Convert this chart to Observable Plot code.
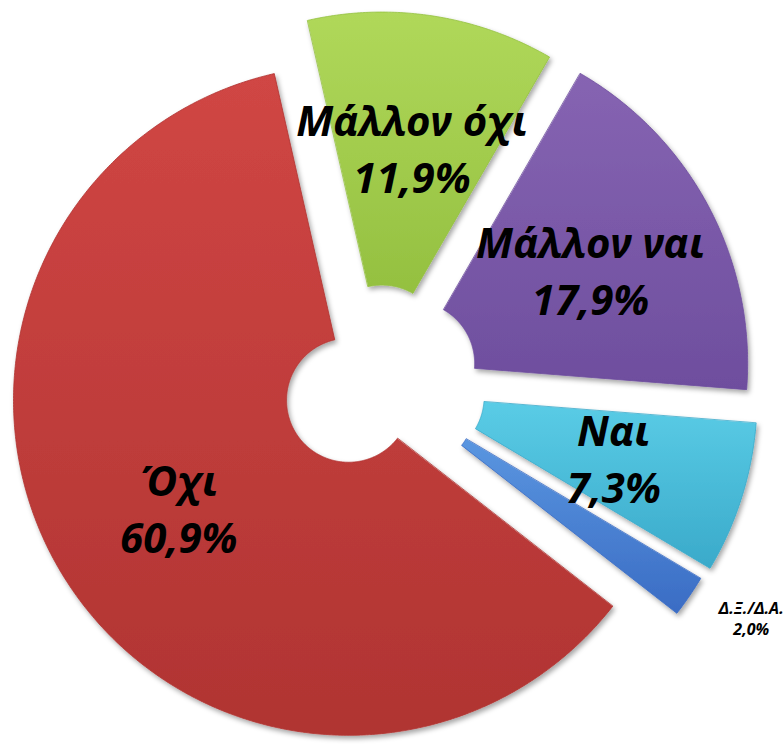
<!DOCTYPE html>
<html>
<head>
<meta charset="utf-8">
<script src="https://cdn.jsdelivr.net/npm/d3@7"></script>
<script src="https://cdn.jsdelivr.net/npm/@observablehq/plot@0.6"></script>
<style>
  html, body { margin: 0; padding: 0; background: #ffffff; }
  #chart { width: 784px; height: 744px; }
</style>
</head>
<body>
<div id="chart"></div>
<script>
// ---- data (clockwise from the top) ----
const categories = ["Μάλλον όχι", "Μάλλον ναι", "Ναι", "Δ.Ξ./Δ.Α.", "Όχι"];
const values = [11.9, 17.9, 7.3, 2.0, 60.9];
const valueLabels = ["11,9%", "17,9%", "7,3%", "2,0%", "60,9%"];
const colorsTop = ["#b0d85a", "#8664b2", "#5accE6", "#5a96e0", "#d04644"];
const colorsBottom = ["#94c040", "#6e4e9e", "#3aaaca", "#3a6cc4", "#b03432"];
const explode = [0.107, 0.122, 0.143, 0.131, 0.099];

// ---- geometry constants (in radius units) ----
const startDeg = -12.8;
const innerR = 0.185;
const R_PX = 335, CX = 376, CY = 382, W = 784, H = 744;

const total = d3.sum(values);
const rad = Math.PI / 180;
let acc = startDeg;
const slices = values.map((v, i) => {
  const a0 = acc, a1 = acc + v / total * 360;
  acc = a1;
  const mid = (a0 + a1) / 2;
  const ox = explode[i] * Math.sin(mid * rad), oy = explode[i] * Math.cos(mid * rad);
  return {i, a0, a1, mid, ox, oy};
});

const points = [];
for (const s of slices) {
  const n = Math.max(4, Math.ceil((s.a1 - s.a0) / 0.5));
  for (let k = 0; k <= n; k++) {
    const a = (s.a0 + (s.a1 - s.a0) * k / n) * rad;
    points.push({i: s.i, x: s.ox + Math.sin(a), y: s.oy + Math.cos(a)});
  }
  for (let k = n; k >= 0; k--) {
    const a = (s.a0 + (s.a1 - s.a0) * k / n) * rad;
    points.push({i: s.i, x: s.ox + innerR * Math.sin(a), y: s.oy + innerR * Math.cos(a)});
  }
}

const labelData = slices.map(s => {
  const small = values[s.i] < 5;
  const r = small ? 1.19 : 0.6;
  const a = (small ? s.mid - 2.5 : s.mid) * rad;
  return {
    i: s.i,
    x: s.ox + r * Math.sin(a),
    y: s.oy + r * Math.cos(a),
    text: categories[s.i] + "\n" + valueLabels[s.i],
    small
  };
});

const plot = Plot.plot({
  width: W,
  height: H,
  margin: 0,
  style: {background: "white", overflow: "visible"},
  x: {domain: [-CX / R_PX, (W - CX) / R_PX], range: [0, W], axis: null},
  y: {domain: [-(H - CY) / R_PX, CY / R_PX], range: [H, 0], axis: null},
  marks: [
    ...slices.map(s => Plot.line(points.filter(p => p.i === s.i), {
      x: "x", y: "y", curve: "linear-closed",
      fill: `url(#grad${s.i})`, stroke: colorsBottom[s.i], strokeWidth: 1, strokeOpacity: 0.8
    })),
    Plot.text(labelData.filter(d => !d.small), {
      x: "x", y: "y", text: "text", dy: -2,
      fontSize: 42, fontWeight: "bold", fontStyle: "italic",
      fontFamily: "'Noto Sans', 'Open Sans', sans-serif",
      lineHeight: 1.36, fill: "black"
    }),
    Plot.text(labelData.filter(d => d.small), {
      x: "x", y: "y", text: "text",
      fontSize: 16, fontWeight: "bold", fontStyle: "italic",
      fontFamily: "'Noto Sans', 'Open Sans', sans-serif",
      lineHeight: 1.3, fill: "black"
    })
  ]
});

// gradients and shadow
const svg = d3.select(plot);
const defs = svg.insert("defs", ":first-child");
slices.forEach(s => {
  const g = defs.append("linearGradient").attr("id", `grad${s.i}`)
    .attr("x1", 0).attr("y1", 0).attr("x2", 0).attr("y2", 1);
  g.append("stop").attr("offset", "0%").attr("stop-color", colorsTop[s.i]);
  g.append("stop").attr("offset", "100%").attr("stop-color", colorsBottom[s.i]);
});
const f = defs.append("filter").attr("id", "shadow").attr("x", "-10%").attr("y", "-10%").attr("width", "130%").attr("height", "130%");
f.append("feDropShadow").attr("dx", 2).attr("dy", 3).attr("stdDeviation", 2.5).attr("flood-color", "#000").attr("flood-opacity", 0.35);
svg.selectAll("g[aria-label='line']").attr("filter", "url(#shadow)");

document.getElementById("chart").appendChild(plot);
</script>
</body>
</html>
